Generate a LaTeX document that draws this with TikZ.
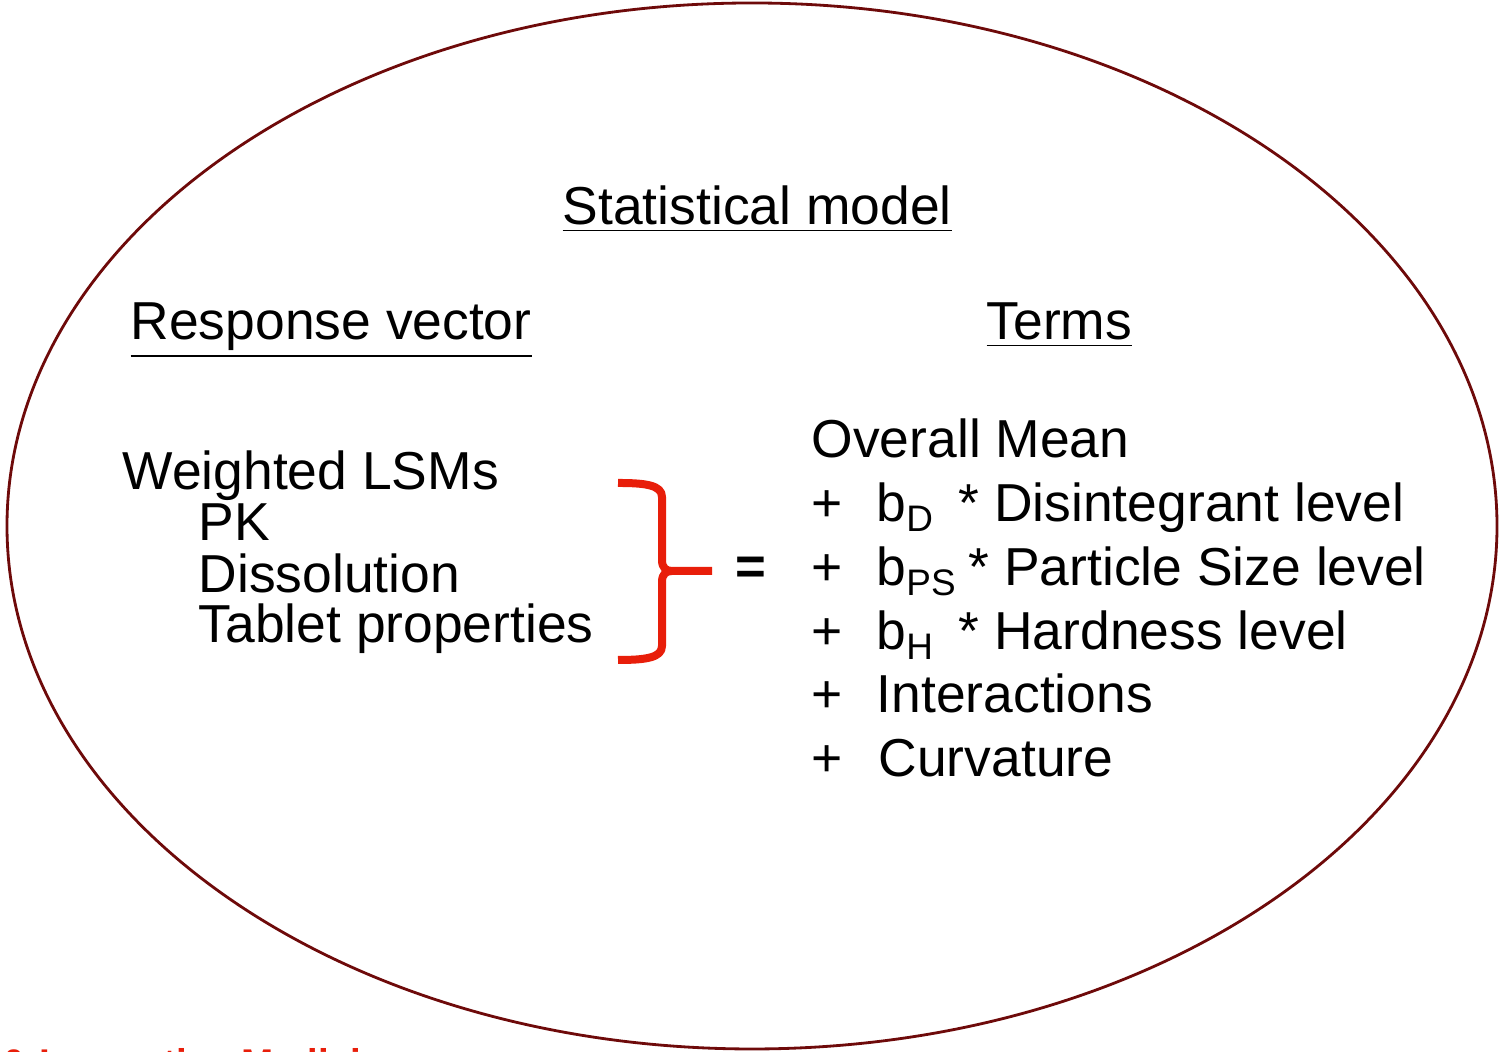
\documentclass[tikz,border=0pt]{standalone}
\usepackage{fontspec}
\setmainfont{Liberation Sans}
\usepackage{xcolor}

\definecolor{ringred}{RGB}{110,10,10}
\definecolor{bracered}{RGB}{232,30,10}

\newcommand{\lowsub}[1]{\raisebox{-2.6pt}{\fontsize{10.5}{12}\selectfont #1}}

\tikzset{
  txt/.style={inner sep=0pt, anchor=base west, font=\fontsize{15.2}{18}\selectfont},
  brace/.style={line width=0.08cm, bracered, line join=round}
}

\begin{document}
\begin{tikzpicture}

% Cadre de la page
\clip (0,0) rectangle (15.01,10.52);

% Ellipse du modele
\draw[line width=0.8pt, ringred] (7.52,5.26) ellipse [x radius=7.45, y radius=5.23];

% Titres
\node[txt] (title) at (5.62,8.27) {\underline{Statistical model}};
\node[txt] (resp) at (1.30,7.12) {\underline{Response vector}};
\node[txt] (terms) at (9.86,7.12) {\underline{Terms}};

% Reponses
\node[txt] (lsm) at (1.22,5.62) {Weighted LSMs};
\node[txt] (pk) at (1.98,5.11) {PK};
\node[txt] (diss) at (1.98,4.59) {Dissolution};
\node[txt] (tab) at (1.98,4.09) {Tablet properties};

% Accolade et signe egal
\draw[brace] (6.18,5.69) .. controls (6.45,5.69) and (6.62,5.67) .. (6.62,5.55)
  -- (6.62,4.92) .. controls (6.62,4.84) and (6.66,4.81) .. (6.72,4.81) -- (7.12,4.81);
\draw[brace] (6.72,4.81) .. controls (6.66,4.81) and (6.62,4.78) .. (6.62,4.70)
  -- (6.62,4.06) .. controls (6.62,3.94) and (6.45,3.92) .. (6.18,3.92);
\node[inner sep=0pt, font=\fontsize{15}{18}\selectfont\bfseries] (eq) at (7.51,4.81) {=};

% Termes
\node[txt] (mean) at (8.11,5.94) {Overall Mean};
\foreach \y [count=\i] in {5.30,4.66,4.02,3.39,2.75}
  \node[txt] (plus\i) at (8.11,\y) {+};
\node[txt] (bd) at (8.76,5.30) {b\lowsub{D}};
\node[txt] (td) at (9.58,5.30) {* Disintegrant level};
\node[txt] (bps) at (8.76,4.66) {b\lowsub{PS}};
\node[txt] (tps) at (9.68,4.66) {* Particle Size level};
\node[txt] (bh) at (8.76,4.02) {b\lowsub{H}};
\node[txt] (th) at (9.58,4.02) {* Hardness level};
\node[txt] (inter) at (8.76,3.39) {Interactions};
\node[txt] (curv) at (8.78,2.75) {Curvature};

% Pied de page
\node[inner sep=0pt, anchor=base west, text=bracered, font=\fontsize{11}{13}\selectfont\bfseries] (foot) at (0,-0.25) {\& Innovative Medicine};

\end{tikzpicture}
\end{document}
